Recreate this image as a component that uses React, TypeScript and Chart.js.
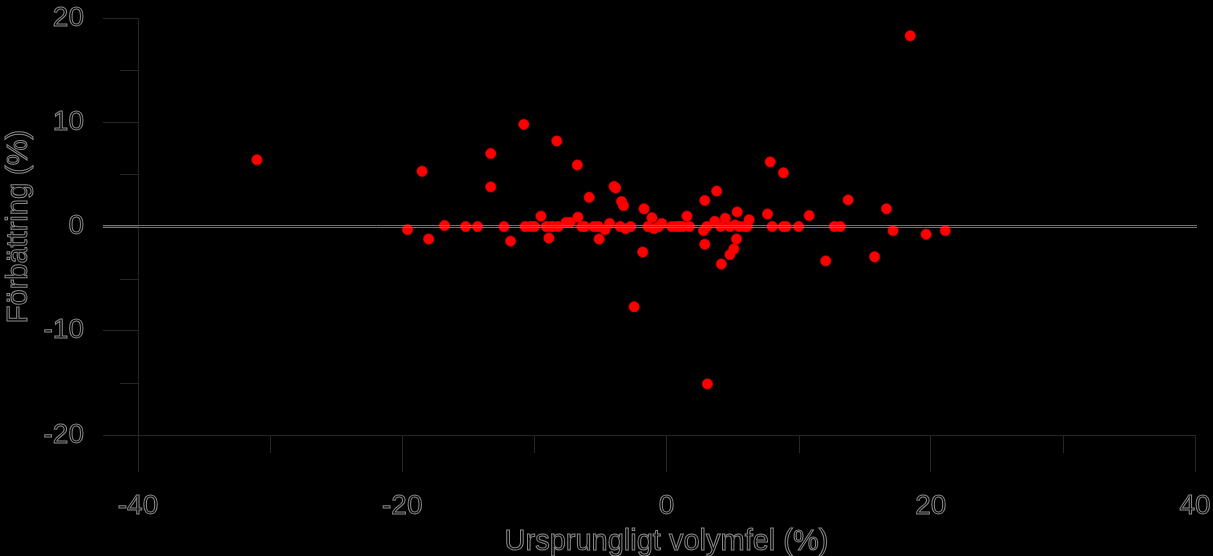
import { useEffect, useRef } from 'react';
import { Chart, registerables } from 'chart.js';

Chart.register(...registerables);

const xValues = [
  -31.0, -19.6, -18.5, -18.0, -16.8, -15.2, -14.3, -13.3, -13.3, -12.3,
  -11.8, -10.8, -10.7, -10.3, -10.0, -9.5, -9.1, -8.9, -8.7, -8.6,
  -8.3, -8.2, -7.6, -7.3, -6.75, -6.7, -6.4, -6.2, -5.85, -5.5,
  -5.15, -5.1, -4.65, -4.3, -3.97, -3.85, -3.4, -3.25, -3.5, -3.1,
  -2.7, -2.45, -1.8, -1.7, -1.4, -1.1, -0.95, -0.6, -0.35, 0.4,
  0.75, 1.0, 1.25, 1.55, 1.75, 2.8, 2.9, 2.9, 3.05, 3.1,
  3.65, 3.8, 4.1, 4.15, 4.45, 4.8, 4.8, 5.1, 5.2, 5.3,
  5.35, 5.5, 5.9, 6.1, 6.25, 7.65, 7.85, 8.0, 8.85, 8.85,
  9.05, 10.0, 10.8, 12.05, 12.7, 13.15, 13.75, 15.75, 16.65, 17.15,
  18.45, 19.65, 21.1,
];
const yValues = [
  6.4, -0.3, 5.3, -1.2, 0.1, 0, 0, 7.0, 3.8, 0,
  -1.4, 9.8, 0, 0, 0, 1.0, 0, -1.1, 0, 0,
  8.2, 0, 0.4, 0.4, 5.9, 0.9, 0, 0, 2.8, 0,
  0, -1.2, -0.3, 0.3, 3.85, 3.7, 2.4, 2.0, 0, -0.2,
  0, -7.7, -2.45, 1.7, 0, 0.85, -0.2, 0, 0.3, 0,
  0, 0, 0, 1.0, 0, -0.4, -1.7, 2.5, 0, -15.1,
  0.5, 3.4, 0, -3.6, 0.8, 0, -2.7, -2.15, 0.15, -1.2,
  1.4, 0, 0, 0, 0.65, 1.2, 6.2, 0, 5.15, 0,
  0, 0, 1.05, -3.3, 0, 0, 2.55, -2.9, 1.7, -0.4,
  18.3, -0.75, -0.4,
];

const xMajorTicks = [-40, -20, 0, 20, 40];
const xMinorTicks = [-30, -10, 10, 30];
const yMajorTicks = [-20, -10, 0, 10, 20];
const yMinorTicks = [-15, -5, 5, 15];
const xTitle = 'Ursprungligt volymfel (%)';
const yTitle = 'Förbättring (%)';

const AXIS = '#262626';
const TEXT = '#8a8a8a';
const FAMILY = '"Liberation Sans", Arial, sans-serif';

export default function App() {
  const ref = useRef<HTMLCanvasElement>(null);

  useEffect(() => {
    document.body.style.margin = '0';
    document.body.style.background = '#000';
    const points = xValues.map((x, i) => ({ x, y: yValues[i] }));

    const plugin = {
      id: 'custom',
      beforeDraw(chart: any) {
        const c = chart.ctx;
        c.save();
        c.fillStyle = '#000';
        c.fillRect(0, 0, chart.width, chart.height);
        c.restore();
      },
      afterDatasetsDraw(chart: any) {
        const c = chart.ctx;
        const ys = chart.scales.y;
        const a = chart.chartArea;
        const y0 = Math.round(ys.getPixelForValue(0));
        c.save();
        c.strokeStyle = '#707070';
        c.lineWidth = 1;
        c.beginPath();
        c.moveTo(a.left - 35, y0 - 1.5);
        c.lineTo(a.right + 2, y0 - 1.5);
        c.moveTo(a.left - 35, y0 + 0.5);
        c.lineTo(a.right + 2, y0 + 0.5);
        c.stroke();
        c.restore();
      },
      afterDraw(chart: any) {
        const c = chart.ctx;
        const xs = chart.scales.x;
        const ys = chart.scales.y;
        const a = chart.chartArea;
        c.save();
        c.strokeStyle = AXIS;
        c.lineWidth = 1;
        c.beginPath();
        xMinorTicks.forEach((v) => {
          const px = Math.round(xs.getPixelForValue(v)) + 0.5;
          c.moveTo(px, a.bottom);
          c.lineTo(px, a.bottom + 18);
        });
        yMinorTicks.forEach((v) => {
          const py = Math.round(ys.getPixelForValue(v)) + 0.5;
          c.moveTo(a.left - 18, py);
          c.lineTo(a.left, py);
        });
        c.stroke();

        c.strokeStyle = TEXT;
        c.lineWidth = 1;
        c.font = '29px ' + FAMILY;
        c.textAlign = 'center';
        c.textBaseline = 'alphabetic';
        c.strokeText(xTitle, (a.left + a.right) / 2, 550);
        c.translate(27, (a.top + a.bottom) / 2);
        c.rotate(-Math.PI / 2);
        c.strokeText(yTitle, 0, 0);
        c.restore();
      },
    };

    const tickFont = { family: FAMILY, size: 28 };
    const zeroPad = (s: any) => {
      s.paddingLeft = 0;
      s.paddingRight = 0;
      s.paddingTop = 0;
      s.paddingBottom = 0;
    };

    const chart = new Chart(ref.current as HTMLCanvasElement, {
      type: 'scatter',
      data: {
        datasets: [
          {
            data: points,
            pointRadius: 5.2,
            pointHoverRadius: 5.2,
            backgroundColor: '#ff0000',
            borderColor: '#e00000',
            borderWidth: 0.6,
          },
        ],
      },
      options: {
        responsive: false,
        animation: false,
        events: [],
        layout: { padding: { top: 18, right: 18, left: 0, bottom: 0 } },
        plugins: { legend: { display: false }, tooltip: { enabled: false } },
        scales: {
          x: {
            type: 'linear',
            min: -40,
            max: 40,
            afterBuildTicks: (s: any) => {
              s.ticks = xMajorTicks.map((v) => ({ value: v }));
            },
            afterFit: (s: any) => {
              s.height = 121;
              zeroPad(s);
            },
            grid: { drawOnChartArea: false, drawTicks: true, tickLength: 37, tickColor: AXIS, tickWidth: 1 },
            border: { display: true, color: AXIS, width: 1 },
            ticks: {
              font: tickFont,
              color: 'rgba(0,0,0,0)',
              textStrokeColor: TEXT,
              textStrokeWidth: 1,
              padding: 17,
              maxRotation: 0,
              autoSkip: false,
              callback: (v: any) => String(v),
            },
          },
          y: {
            type: 'linear',
            min: -20,
            max: 20,
            afterBuildTicks: (s: any) => {
              s.ticks = yMajorTicks.map((v) => ({ value: v }));
            },
            afterFit: (s: any) => {
              s.width = 138;
              zeroPad(s);
            },
            grid: { drawOnChartArea: false, drawTicks: true, tickLength: 35, tickColor: AXIS, tickWidth: 1 },
            border: { display: true, color: AXIS, width: 1 },
            ticks: {
              font: tickFont,
              color: 'rgba(0,0,0,0)',
              textStrokeColor: TEXT,
              textStrokeWidth: 1,
              padding: 19,
              autoSkip: false,
              callback: (v: any) => String(v),
            },
          },
        },
      },
      plugins: [plugin],
    } as any);

    return () => chart.destroy();
  }, []);

  return (
    <canvas
      ref={ref}
      width={1213}
      height={556}
      style={{ position: 'absolute', left: 0, top: 0, display: 'block' }}
    />
  );
}
